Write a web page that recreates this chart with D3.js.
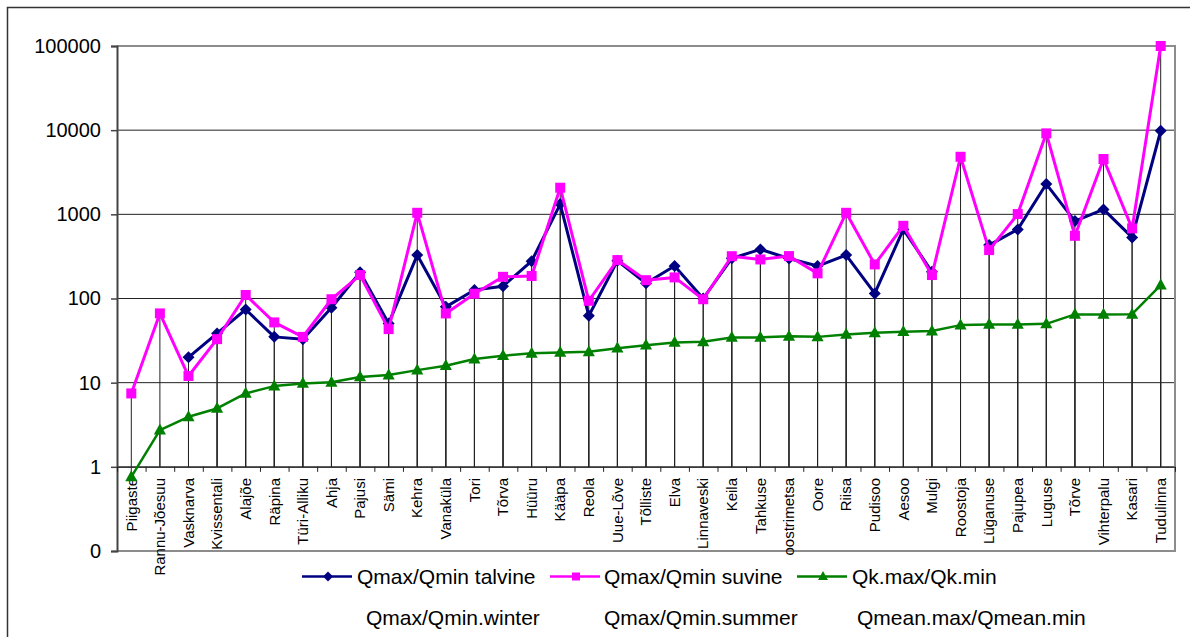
<!DOCTYPE html>
<html><head><meta charset="utf-8">
<script src="https://cdn.jsdelivr.net/npm/d3@7"></script>
<style>body{margin:0;background:#fff;}svg{display:block;font-family:"Liberation Sans",Arial,sans-serif;}</style>
</head><body>
<svg id="c" width="1190" height="637"></svg>
<script>
const categories = ["Piigaste","Rannu-Jõesuu","Vasknarva","Kvissentali","Alajõe","Räpina","Türi-Alliku","Ahja","Pajusi","Sämi","Kehra","Vanaküla","Tori","Tõrva","Hüüru","Kääpa","Reola","Uue-Lõve","Tõlliste","Elva","Linnaveski","Keila","Tahkuse","oostrimetsa","Oore","Riisa","Pudisoo","Aesoo","Mulgi","Roostoja","Lüganuse","Pajupea","Luguse","Tõrve","Vihterpalu","Kasari","Tudulinna"];
const winter = [null,null,20,38.5,74,35,32.7,77.6,205,50.6,328,79.6,126,140,278,1325,62.3,280,152,243,100,300,383,299,243,328,115,662,208,null,431,662,2290,832,1145,532,9840];
const summer = [7.45,66.5,12,32.9,110,52,35,98,190,43.3,1043,66.5,114,181,185,2070,94,286,165,178,98,318,291,319,199,1043,254,731,190,4830,376,1007,9160,556,4540,681,100000];
const qk = [0.76,2.73,3.93,4.94,7.45,9.1,9.8,10.1,11.7,12.3,14.1,15.9,19.1,20.9,22.3,22.9,23.3,25.7,27.9,30.1,30.6,34.5,34.5,35.5,35,37.4,39.2,40.3,41,48.3,49.2,49.2,50,64.7,64.7,65,144];
const seriesNames = ["Qmax/Qmin talvine","Qmax/Qmin suvine","Qk.max/Qk.min"];
const seriesNamesEn = ["Qmax/Qmin.winter","Qmax/Qmin.summer","Qmean.max/Qmean.min"];
const yTicks = [0.1,1,10,100,1000,10000,100000];
const yTickLabels = ["0","1","10","100","1000","10000","100000"];

const svg = d3.select("#c");
const L=117, R=1175, T=46, B=551;
const y = d3.scaleLog().domain([0.1,100000]).range([B,T]);
const x = d3.scaleBand().domain(categories).range([L,R]);
const xi = d3.scaleLinear().domain([0,categories.length]).range([L,R]);
const cx = c => x(c)+x.bandwidth()/2;

// outer border
svg.append("rect").attr("x",7.5).attr("y",7.5).attr("width",1300).attr("height",800)
  .attr("fill","none").attr("stroke","#333").attr("stroke-width",1.5);

// gridlines
svg.append("g").selectAll("line").data(yTicks.slice(1)).join("line")
  .attr("x1",L).attr("x2",R).attr("y1",d=>y(d)).attr("y2",d=>y(d))
  .attr("stroke","#222").attr("stroke-width",1);

const series = [
  {vals:winter,color:"#000080",shape:"diamond"},
  {vals:summer,color:"#FF00FF",shape:"square"},
  {vals:qk,color:"#008000",shape:"triangle"}
];

// drop lines
series.forEach(s=>{
  svg.append("g").selectAll("line").data(categories.map((c,i)=>({c,v:s.vals[i]})).filter(d=>d.v!=null)).join("line")
    .attr("x1",d=>cx(d.c)).attr("x2",d=>cx(d.c)).attr("y1",d=>y(d.v)).attr("y2",y(1))
    .attr("stroke","#222").attr("stroke-width",1);
});

// plot area border (top, right, bottom)
svg.append("path").attr("d",`M${L},${T}H${R}V${B}H${L}`).attr("fill","none").attr("stroke","#8c8c8c").attr("stroke-width",2);

// y axis
const ya = svg.append("g").attr("transform",`translate(${L},0)`)
  .call(d3.axisLeft(y).tickValues(yTicks).tickFormat((d,i)=>yTickLabels[i]).tickSize(6).tickPadding(10));
ya.select(".domain").attr("stroke","#444").attr("stroke-width",2);
ya.selectAll(".tick line").attr("stroke","#444").attr("stroke-width",1.5);
ya.selectAll("text").attr("font-size",20).attr("fill","#000").attr("font-family","Liberation Sans, Arial, sans-serif");

// x axis at value 1
const xa = svg.append("g").attr("transform",`translate(0,${y(1)})`)
  .call(d3.axisBottom(xi).tickValues(d3.range(categories.length+1)).tickFormat("").tickSize(5).tickSizeOuter(0));
xa.select(".domain").attr("stroke","#222").attr("stroke-width",1);
xa.selectAll(".tick line").attr("stroke","#222").attr("stroke-width",1);

// x labels
svg.append("g").selectAll("text").data(categories).join("text")
  .attr("transform",d=>`translate(${cx(d)},478) rotate(-90)`)
  .attr("text-anchor","end").attr("dy","0.35em").attr("font-size",15).attr("fill","#000")
  .text(d=>d);

// marker symbol
function marker(sel, shape, color, size){
  if(shape==="diamond") sel.append("path").attr("d",d3.symbol(d3.symbolDiamond2, size*size*0.75)()).attr("fill",color).attr("transform","rotate(45)").attr("stroke",color).attr("stroke-width",0.5);
  else if(shape==="square") sel.append("rect").attr("x",-size/2).attr("y",-size/2).attr("width",size).attr("height",size).attr("fill",color);
  else sel.append("path").attr("d",`M0,${-size*0.6}L${size*0.55},${size*0.4}L${-size*0.55},${size*0.4}Z`).attr("fill",color);
}

// series lines + markers
series.forEach(s=>{
  const data = categories.map((c,i)=>({c,v:s.vals[i]}));
  const line = d3.line().defined(d=>d.v!=null).x(d=>cx(d.c)).y(d=>y(d.v));
  svg.append("path").datum(data).attr("d",line).attr("fill","none").attr("stroke",s.color)
    .attr("stroke-width",s.shape==="triangle"?2.5:3).attr("stroke-linejoin","round");
  const g = svg.append("g");
  data.filter(d=>d.v!=null).forEach(d=>{
    const m = g.append("g").attr("transform",`translate(${cx(d.c)},${y(d.v)})`);
    if(s.shape==="diamond"){
      m.append("path").attr("d","M0,-6L6,0L0,6L-6,0Z").attr("fill",s.color);
    } else marker(m,s.shape,s.color,s.shape==="square"?10:11);
  });
});

// legend
const legX = [302,550,797];
const legTextX = [357,604,852];
const legEnX = [366,604,857];
series.forEach((s,i)=>{
  const g = svg.append("g");
  g.append("line").attr("x1",legX[i]).attr("x2",legX[i]+50).attr("y1",576.5).attr("y2",576.5).attr("stroke",s.color).attr("stroke-width",2.5);
  const m = g.append("g").attr("transform",`translate(${legX[i]+26},576.5)`);
  if(s.shape==="diamond") m.append("path").attr("d","M0,-5L5,0L0,5L-5,0Z").attr("fill",s.color);
  else marker(m,s.shape,s.color,s.shape==="square"?8:9);
  g.append("text").attr("x",legTextX[i]).attr("y",576.5).attr("dy","0.35em").attr("font-size",21).attr("fill","#000").text(seriesNames[i]);
  g.append("text").attr("x",legEnX[i]).attr("y",617.5).attr("dy","0.35em").attr("font-size",21).attr("fill","#000").text(seriesNamesEn[i]);
});
</script>
</body></html>
